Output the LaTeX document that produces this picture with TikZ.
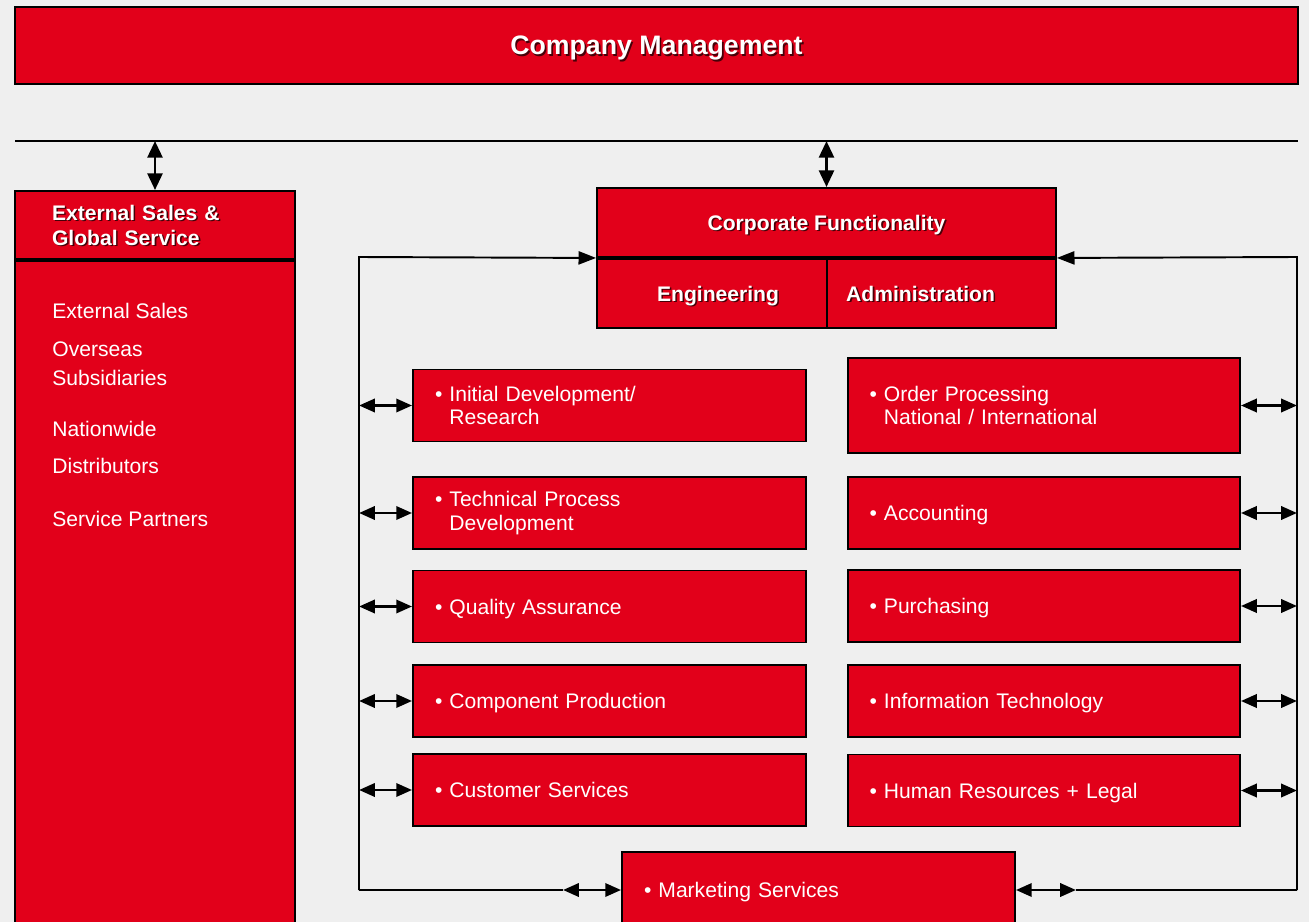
\documentclass[tikz,border=0pt]{standalone}
\usepackage{fontspec}
\setmainfont{Liberation Sans}
\usepackage{xcolor}
\usepackage{tikz}
\usetikzlibrary{arrows.meta}
\usetikzlibrary{positioning}

\definecolor{boxRed}{RGB}{226,0,26}
\definecolor{paperGray}{RGB}{239,239,239}
\definecolor{shadowRed}{RGB}{70,0,8}

% bold white text with a small dark shadow
\newcommand{\shd}[1]{\leavevmode\rlap{\hspace{0.9pt}\raisebox{-0.9pt}[0pt][0pt]{\textcolor{shadowRed}{#1}}}\textcolor{white}{#1}}
% bullet entry over one or two lines
\newcommand{\itm}[2]{\textbullet\ #1\ifx\relax#2\relax\else\\\phantom{\textbullet\ }#2\fi}

\begin{document}
\begin{tikzpicture}[x=0.02cm,y=-0.02cm]
            \tikzstyle{myBox}=[draw=black,fill=boxRed,line width=1.1pt,inner sep=0pt,
                               text=white,font=\fontsize{12}{13.6}\selectfont];
            \tikzstyle{myItem}=[myBox,minimum width=7.86cm,align=left,
                                text width=6.98cm,minimum height=1.44cm];
            \tikzstyle{myItemOne}=[myItem,text depth=0pt];
            \tikzstyle{myHead}=[myBox,font=\bfseries\fontsize{12}{14.2}\selectfont];
            \tikzstyle{myHeadOne}=[myHead,text depth=0pt];
            \tikzstyle{myTxt}=[anchor=west,inner sep=0pt,text=white,
                               font=\fontsize{12}{13.6}\selectfont];
            \tikzstyle{myLine}=[line width=1.1pt];
            \tikzstyle{dbl}=[line width=1.6pt,{Triangle[length=9pt,width=7.5pt]}-{Triangle[length=9pt,width=7.5pt]}];
            \tikzstyle{dblUp}=[line width=1.6pt,{Triangle[length=9.5pt,width=8.5pt]}-{Triangle[length=9.5pt,width=8.5pt]}];
            \tikzstyle{oneArr}=[myLine,-{Triangle[length=10pt,width=7.5pt]}];

            \useasboundingbox (0,0) rectangle (1309,922);
            \clip (0,0) rectangle (1309,922);
            \fill[paperGray] (0,0) rectangle (1309,922);

            % top level
            \node[myHeadOne,minimum width=25.66cm,minimum height=1.54cm,
                  font=\bfseries\fontsize{15.2}{17}\selectfont] (mgmt) at (656.5,45.5) {\shd{Company Management}};
            \coordinate (busL) at (15,141);
            \coordinate (busR) at (1298,141);
            \draw[myLine] (busL) -- (busR);

            % external sales column
            \node[myHead,minimum width=5.6cm,minimum height=1.36cm,align=left,
                  text width=4.12cm] (salesHd) at (155,225) {\shd{External Sales \&}\\\shd{Global Service}};
            \node[myBox,minimum width=5.6cm,minimum height=14cm,anchor=north] (salesBd) at (salesHd.south) {};
            \node[myTxt] (sExt) at (52,311) {External Sales};
            \node[myTxt] (sOvr) at (52,349) {Overseas};
            \node[myTxt] (sSub) at (52,378) {Subsidiaries};
            \node[myTxt] (sNat) at (52,429) {Nationwide};
            \node[myTxt] (sDis) at (52,466) {Distributors};
            \node[myTxt] (sSrv) at (52,519) {Service Partners};
            \draw[dblUp] (salesHd.north |- busL) -- (salesHd.north);

            % corporate functionality
            \node[myHeadOne,minimum width=9.18cm,minimum height=1.38cm] (corp) at (826.5,222.5) {\shd{Corporate Functionality}};
            \node[myHeadOne,minimum width=4.6cm,minimum height=1.38cm,anchor=north west] (eng) at (corp.south west) {\hspace*{6.8pt}\shd{Engineering}};
            \node[myHeadOne,minimum width=4.58cm,minimum height=1.38cm,anchor=north east] (adm) at (corp.south east) {\shd{Administration}\hspace*{23.8pt}};
            \draw[dblUp] (corp.north |- busL) -- (corp.north);

            % engineering units
            \node[myItem] (dev) at (609.5,405.5) {\itm{Initial Development/}{Research}};
            \node[myItem] (proc) at (609.5,513) {\itm{Technical Process}{Development}};
            \node[myItemOne] (qual) at (609.5,606.5) {\itm{Quality Assurance}{}};
            \node[myItemOne] (comp) at (609.5,701) {\itm{Component Production}{}};
            \node[myItemOne] (cust) at (609.5,790) {\itm{Customer Services}{}};

            % administration units
            \node[myItem,minimum width=7.84cm,minimum height=1.9cm] (ord) at (1044,405.5) {\itm{Order Processing}{National / International}};
            \node[myItemOne,minimum width=7.84cm] (acc) at (1044,513) {\itm{Accounting}{}};
            \node[myItemOne,minimum width=7.84cm] (pur) at (1044,606) {\itm{Purchasing}{}};
            \node[myItemOne,minimum width=7.84cm] (it) at (1044,701) {\itm{Information Technology}{}};
            \node[myItemOne,minimum width=7.84cm] (hr) at (1044,790.5) {\itm{Human Resources + Legal}{}};

            \node[myItemOne,minimum height=1.52cm] (mkt) at (818.5,890) {\itm{Marketing Services}{}};

            % feedback loops
            \coordinate (lt) at (359,257);
            \coordinate (lb) at (359,890);
            \coordinate (mL) at (563,890);
            \coordinate (rt) at (1297,257);
            \coordinate (rb) at (1297,890);
            \coordinate (mR) at (1076,890);
            \draw[oneArr] (lb) -- (lt) -- (corp.south west);
            \draw[oneArr] (rb) -- (rt) -- (corp.south east);
            \draw[myLine] (lb) -- (mL);
            \draw[myLine] (rb) -- (mR);
            \draw[dbl] (mL) -- (mkt.west);
            \draw[dbl] (mkt.east) -- (mR);
            \foreach \b in {dev,proc,qual,comp,cust}
               \draw[dbl] (\b.west -| lt) -- (\b.west);
            \foreach \b in {ord,acc,pur,it,hr}
               \draw[dbl] (\b.east) -- (\b.east -| rt);
\end{tikzpicture}
\end{document}
